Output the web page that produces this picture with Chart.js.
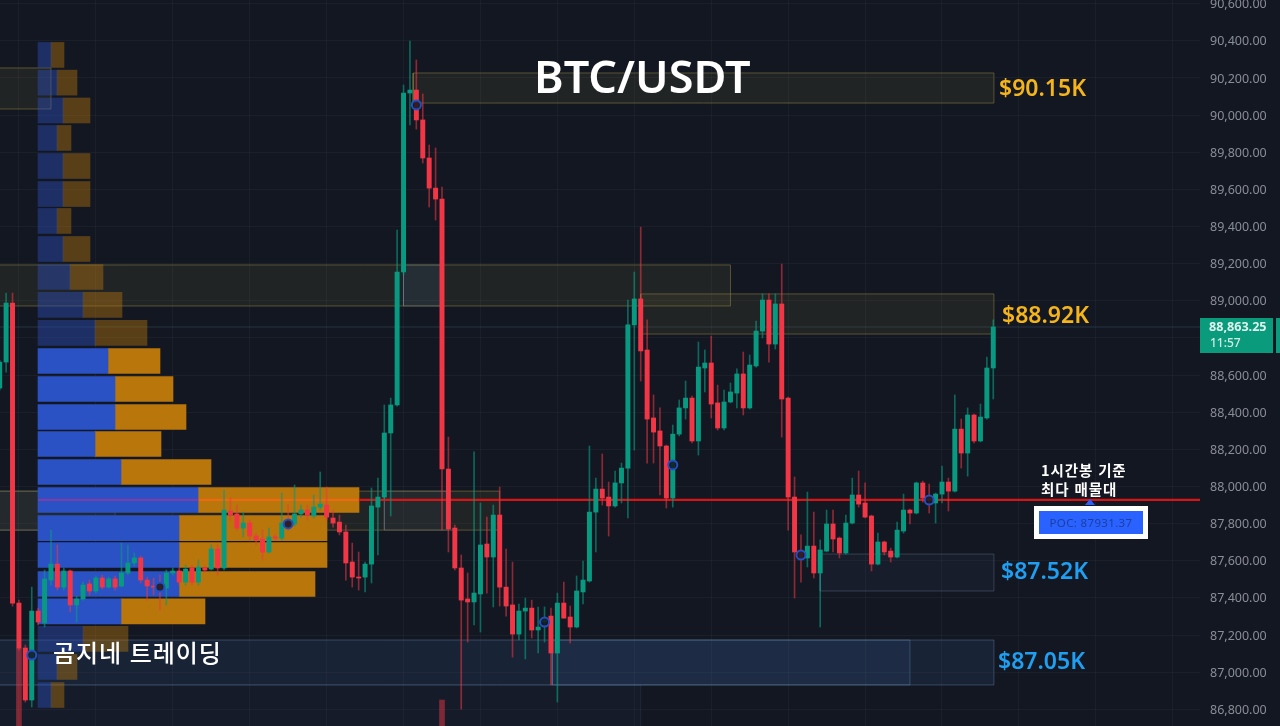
<!DOCTYPE html>
<html lang="ko">
<head>
<meta charset="utf-8">
<title>BTC/USDT</title>
<script src="https://cdn.jsdelivr.net/npm/chart.js@4"></script>
<style>
html,body{margin:0;padding:0;width:1280px;height:726px;overflow:hidden;background:#131722;}
canvas{position:absolute;left:0;top:0;}
#base{z-index:1;} #profile{z-index:2;} #candles{z-index:3;}
.t{position:absolute;z-index:4;white-space:nowrap;line-height:1;}
.sans{font-family:"Noto Sans",sans-serif;}
.kr{font-family:"Noto Sans CJK KR","Noto Sans",sans-serif;color:#fff;}
</style>
</head>
<body>
<canvas id="base" width="1280" height="726"></canvas>
<canvas id="profile" width="1280" height="726"></canvas>
<canvas id="candles" width="1280" height="726"></canvas>

<div class="t sans" style="left:534px;top:53px;font-size:45px;font-weight:600;color:#fff;">BTC/USDT</div>
<div class="t sans" style="left:999px;top:76px;font-size:23px;font-weight:600;color:#f4b41a;">$90.15K</div>
<div class="t sans" style="left:1002px;top:303px;font-size:23px;font-weight:600;color:#f4b41a;">$88.92K</div>
<div class="t sans" style="left:1001px;top:559px;font-size:23px;font-weight:600;color:#1e9ff2;">$87.52K</div>
<div class="t sans" style="left:998px;top:649px;font-size:23px;font-weight:600;color:#1e9ff2;">$87.05K</div>
<div class="t kr" style="left:53px;top:640px;font-size:24px;font-weight:500;letter-spacing:.95px;">곰지네 트레이딩</div>
<div class="t kr" style="left:1041px;top:463px;font-size:14.5px;font-weight:700;letter-spacing:.9px;">1시간봉 기준</div>
<div class="t kr" style="left:1041px;top:482px;font-size:14.5px;font-weight:700;letter-spacing:.9px;">최다 매물대</div>
<div class="t" style="left:1085px;top:499px;width:0;height:0;border-left:5px solid transparent;border-right:5px solid transparent;border-bottom:6px solid #2962ff;"></div>
<div class="t sans" style="left:1034px;top:506px;width:104px;height:23px;border:5px solid #fff;background:#2962ff;color:#1d3f9e;font-size:11.5px;line-height:23px;text-align:center;letter-spacing:.35px;">POC: 87931.37</div>
<div class="t sans" style="left:1200px;top:318px;width:73px;height:35px;background:#0a9a7c;"></div>
<div class="t sans" style="left:1276px;top:318px;width:4px;height:35px;background:#0a9a7c;"></div>
<div class="t sans" style="left:1209px;top:321px;font-size:12.6px;font-weight:700;color:#dff3ee;">88,863.25</div>
<div class="t sans" style="left:1210px;top:337px;font-size:12px;font-weight:500;color:#cfeae4;">11:57</div>

<script>
/* ---------- candle values ---------- */
const opens = [88530,88670,88988,87372,87130,86850,87329,87265,87496,87582,87458,87545,87362,87394,87475,87437,87507,87458,87502,87464,87534,87588,87615,87496,87464,87469,87453,87534,87545,87485,87561,87485,87561,87555,87663,87561,87868,87852,87776,87803,87733,87717,87647,87728,87722,87808,87798,87852,87873,87841,87889,87900,87830,87808,87755,87593,87512,87512,87582,87889,87943,88288,88439,89155,90119,90135,89974,89769,89607,89548,88094,87776,87561,87394,87378,87421,87690,87620,87846,87458,87362,87205,87329,87345,87227,87270,87302,87103,87372,87297,87243,87432,87491,87862,87986,87943,87895,88019,88099,88870,89010,88735,88369,88299,88218,87938,88282,88423,88476,88245,88638,88665,88450,88315,88455,88503,88606,88423,88649,88837,89004,88767,88983,88476,87943,87647,87615,87679,87534,87652,87798,87722,87642,87803,87954,87911,87841,87582,87701,87652,87620,87760,87873,87857,88019,87938,87911,87959,88024,87975,88309,88180,88385,88245,88369,88638];
const closes = [88670,88988,87372,87130,86850,87329,87270,87502,87582,87458,87545,87362,87394,87469,87437,87507,87458,87502,87458,87534,87588,87615,87496,87464,87458,87448,87534,87545,87485,87555,87485,87566,87550,87663,87561,87873,87846,87776,87803,87733,87712,87647,87728,87722,87803,87792,87852,87873,87846,87889,87905,87835,87803,87755,87588,87512,87507,87582,87895,87943,88288,88439,89155,90119,90135,89974,89769,89607,89548,88094,87771,87561,87388,87378,87426,87685,87620,87846,87458,87356,87205,87329,87345,87227,87243,87281,87103,87372,87291,87243,87437,87496,87862,87986,87938,87895,88019,88099,88870,89010,88730,88363,88293,88218,87938,88282,88423,88476,88245,88643,88665,88444,88315,88455,88509,88606,88423,88654,88837,89004,88767,88983,88471,87943,87647,87615,87679,87534,87658,87798,87717,87642,87803,87954,87905,87835,87582,87701,87647,87620,87765,87873,87857,88019,87938,87927,87959,88024,87975,88309,88180,88385,88245,88374,88638,88859];
const highs = [88680,89042,89042,87388,87146,87458,87345,87550,87765,87685,87561,87550,87410,87485,87496,87518,87523,87512,87518,87695,87685,87642,87625,87512,87507,87523,87550,87561,87561,87577,87577,87604,87572,87685,87685,87981,87938,87900,87862,87819,87749,87765,87776,87739,87965,87900,88008,87900,87900,87954,88078,87997,87873,87846,87792,87695,87647,87593,87992,88045,88439,88476,89381,90162,90399,90297,90114,89839,89823,89613,88266,87792,87631,87534,88186,87911,87835,87900,87997,87663,87593,87367,87399,87388,87351,87351,87345,87426,87485,87356,87518,87598,88218,88045,88175,88024,88083,88126,89004,89155,89397,88897,88493,88423,88223,88331,88466,88568,88487,88778,88735,88810,88546,88519,88557,88633,88724,88708,88891,89037,89037,89037,89198,88482,88051,87739,87970,87862,87712,87873,87873,87728,87846,88045,88083,88019,87846,87749,87706,87668,87808,87959,87878,88024,88029,88013,87965,88110,88045,88493,88363,88423,88390,88444,88697,88897];
const lows = [88519,88616,87356,87119,86839,86812,87254,87243,87469,87442,87442,87324,87270,87388,87415,87426,87448,87453,87442,87458,87523,87572,87480,87388,87415,87335,87362,87523,87469,87469,87469,87469,87539,87550,87523,87550,87819,87765,87728,87712,87685,87604,87642,87712,87712,87765,87787,87835,87819,87830,87873,87819,87781,87739,87496,87458,87442,87432,87480,87631,87927,87841,88433,89139,89947,89925,89742,89505,89435,87765,87647,87550,86801,87162,87254,87216,87426,87351,87356,87302,87081,87173,87071,87184,87103,87162,86931,86839,87291,87157,87238,87367,87485,87647,87900,87733,87889,87911,87830,88196,88568,88126,88126,87954,87884,87889,88272,88363,88234,88169,88509,88369,88304,88304,88450,88423,88385,88417,88643,88800,88670,88740,88266,87765,87399,87485,87566,87507,87243,87647,87647,87615,87636,87798,87889,87830,87545,87577,87631,87593,87615,87749,87798,87852,87916,87857,87803,87911,87868,87970,88099,88056,88234,88240,88363,88471];

/* ---------- volume stubs at the bottom of the pane: [candle index] and top price ---------- */
const volumeIndex = [3, 69];
const volumeTop = [87130, 86850];

/* ---------- circle markers ---------- */
const markerIndex = [5,25,45,65,85,105,125,145];
const markerPrice = [87092,87459,87798,90055,87270,88116,87631,87927];

/* ---------- volume profile ---------- */
const binPrice = [90324,90175,90025,89877,89726,89575,89430,89279,89128,88978,88827,88676,88525,88374,88229,88078,87927,87776,87631,87475,87327,87179,87028,86877];
const buyVolume = [13,19,25,19,25,25,19,25,32,45,57,70,77,77,57,83,160,141,141,141,83,45,19,13];
const sellVolume = [13,20,27,14,27,27,14,27,33,39,52,52,58,71,66,90,161,148,148,136,84,45,20,13];
const valueArea = [0,0,0,0,0,0,0,0,0,0,0,1,1,1,1,1,1,1,1,1,1,0,0,0];

/* ---------- zones ---------- */
const zoneStart = [-2,64.5,-2,100,63,-2,60,-2,128,-2,86.2,-2];
const zoneEnd   = [8,155.1,114,155.1,69,78,70,18,155.1,155.1,142,100];
const zoneLow   = [90033,90065,88972,88821,88972,87765,87765,87765,87437,86931,86931,86700];
const zoneHigh  = [90254,90227,89193,89037,89193,87975,87975,87975,87636,87173,87173,86931];
const zoneKind  = ['o','o','o','o','b','o','g','g','g','b','b','f'];

/* ---------- axis ---------- */
const yTicks = [86800,87000,87200,87400,87600,87800,88000,88200,88400,88600,88800,89000,89200,89400,89600,89800,90000,90200,90400,90600];
const xGrid = [3,15,27,39,51,63,75,87,99,111,123,135,147,159,171,183];
const priceMin = 86710, priceMax = 90620;
const xMin = 0.047, xMax = 187.25;
const pocPrice = 87928, lastPrice = 88859;
const pocBreaks = [6,31,56,xMax];

const GREEN='#089a80', RED='#f23645';
const idx = opens.map((_,i)=>i);
const up = idx.map(i=>closes[i]>=opens[i]);

const styles = {
  o:{fill:'rgba(130,120,60,.13)',line:'rgba(140,130,65,.55)'},
  b:{fill:'rgba(55,95,150,.17)',line:'rgba(110,145,185,.38)'},
  g:{fill:'rgba(60,90,130,.1)',line:'rgba(110,130,160,.36)'},
  f:{fill:'rgba(50,80,120,.08)',line:'rgba(110,130,165,.14)'}
};
const zoneSets = zoneStart.map((s,k)=>({
  fill:'shape', pointRadius:0, borderWidth:1, tension:0,
  backgroundColor:styles[zoneKind[k]].fill, borderColor:styles[zoneKind[k]].line,
  data:[{x:s,y:zoneLow[k]},{x:zoneEnd[k],y:zoneLow[k]},{x:zoneEnd[k],y:zoneHigh[k]},{x:s,y:zoneHigh[k]},{x:s,y:zoneLow[k]}]
}));
const pocColors=['#7a3fa8','#ee6a12','#d81414'];
const pocSets = pocColors.map((c,k)=>({
  type:'line', order:7, pointRadius:0, borderWidth:2.4, borderColor:c, fill:false,
  data:[{x:pocBreaks[k],y:pocPrice},{x:pocBreaks[k+1],y:pocPrice}]
}));
const noPadding = s=>{s.paddingTop=0;s.paddingBottom=0;s.paddingLeft=0;s.paddingRight=0;};

Chart.defaults.animation=false;

/* bottom layer: grid, price axis, zones */
new Chart(document.getElementById('base'),{
  type:'line',
  data:{datasets:[
    ...zoneSets,
    {pointRadius:0,borderWidth:1,borderColor:'rgba(110,170,190,.2)',fill:false,
     data:[{x:xMin,y:lastPrice},{x:xMax,y:lastPrice}]}
  ]},
  options:{
    responsive:false,maintainAspectRatio:false,
    layout:{padding:0,autoPadding:false},
    plugins:{legend:{display:false},tooltip:{enabled:false}},
    scales:{
      x:{type:'linear',display:true,min:xMin,max:xMax,offset:false,position:'bottom',
         afterFit(s){s.height=0;noPadding(s);},
         afterBuildTicks(s){s.ticks=xGrid.map(v=>({value:v}));},
         border:{display:false},
         ticks:{display:false},
         grid:{color:'rgba(255,255,255,.035)',drawTicks:false}},
      y:{type:'linear',position:'right',min:priceMin,max:priceMax,
         afterFit(s){s.width=80;noPadding(s);},
         afterBuildTicks(s){s.ticks=yTicks.map(v=>({value:v}));},
         border:{display:false},
         grid:{color:'rgba(255,255,255,.035)',drawTicks:false},
         ticks:{padding:10,labelOffset:1,color:'#8a8d95',font:{family:'"Noto Sans",sans-serif',size:12.5},
           callback:v=>v.toLocaleString('en-US',{minimumFractionDigits:2,maximumFractionDigits:2})}}
    }
  }
});

/* middle layer: volume profile */
new Chart(document.getElementById('profile'),{
  type:'bar',
  data:{datasets:[
    {label:'Buy',data:binPrice.map((p,i)=>({y:p,x:[0,buyVolume[i]]})),
     backgroundColor:valueArea.map(v=>v?'#2a52c4':'rgba(42,82,196,.42)')},
    {label:'Sell',data:binPrice.map((p,i)=>({y:p,x:[buyVolume[i],buyVolume[i]+sellVolume[i]]})),
     backgroundColor:valueArea.map(v=>v?'#b8760b':'rgba(184,118,11,.42)')}
  ]},
  options:{
    indexAxis:'y',responsive:false,maintainAspectRatio:false,
    layout:{padding:0,autoPadding:false},
    plugins:{legend:{display:false},tooltip:{enabled:false}},
    datasets:{bar:{grouped:false,barThickness:25,borderWidth:0}},
    scales:{
      x:{type:'linear',display:false,min:-38,max:1242},
      y:{type:'linear',display:false,min:priceMin,max:priceMax,offset:false}
    }
  }
});

/* top layer: candles, POC line, signal markers */
new Chart(document.getElementById('candles'),{
  type:'bar',
  data:{datasets:[
    ...pocSets,
    {label:'Volume',order:6,barThickness:5,backgroundColor:'rgba(242,54,69,.48)',
     data:volumeIndex.map((x,k)=>({x,y:[priceMin,volumeTop[k]]}))},
    {label:'Wick',order:5,barThickness:1,
     backgroundColor:idx.map(i=>up[i]?'rgba(8,154,128,.62)':'rgba(242,54,69,.55)'),
     data:idx.map(i=>({x:i,y:[lows[i],highs[i]]}))},
    {label:'Body',order:4,barThickness:4.3,
     backgroundColor:idx.map(i=>up[i]?GREEN:RED),
     data:idx.map(i=>({x:i,y:[opens[i],closes[i]]}))},
    {type:'scatter',label:'Signal',order:3,pointStyle:'circle',pointRadius:4.5,borderWidth:2,
     borderColor:'#2450c0',backgroundColor:'rgba(19,23,34,.85)',
     data:markerIndex.map((x,k)=>({x,y:markerPrice[k]}))}
  ]},
  options:{
    responsive:false,maintainAspectRatio:false,
    layout:{padding:{left:0,top:0,bottom:0,right:80},autoPadding:false},
    plugins:{legend:{display:false},tooltip:{enabled:false}},
    datasets:{bar:{grouped:false,borderWidth:0,minBarLength:1}},
    scales:{
      x:{type:'linear',display:false,min:xMin,max:xMax,offset:false},
      y:{type:'linear',display:false,min:priceMin,max:priceMax}
    }
  }
});
</script>
</body>
</html>
